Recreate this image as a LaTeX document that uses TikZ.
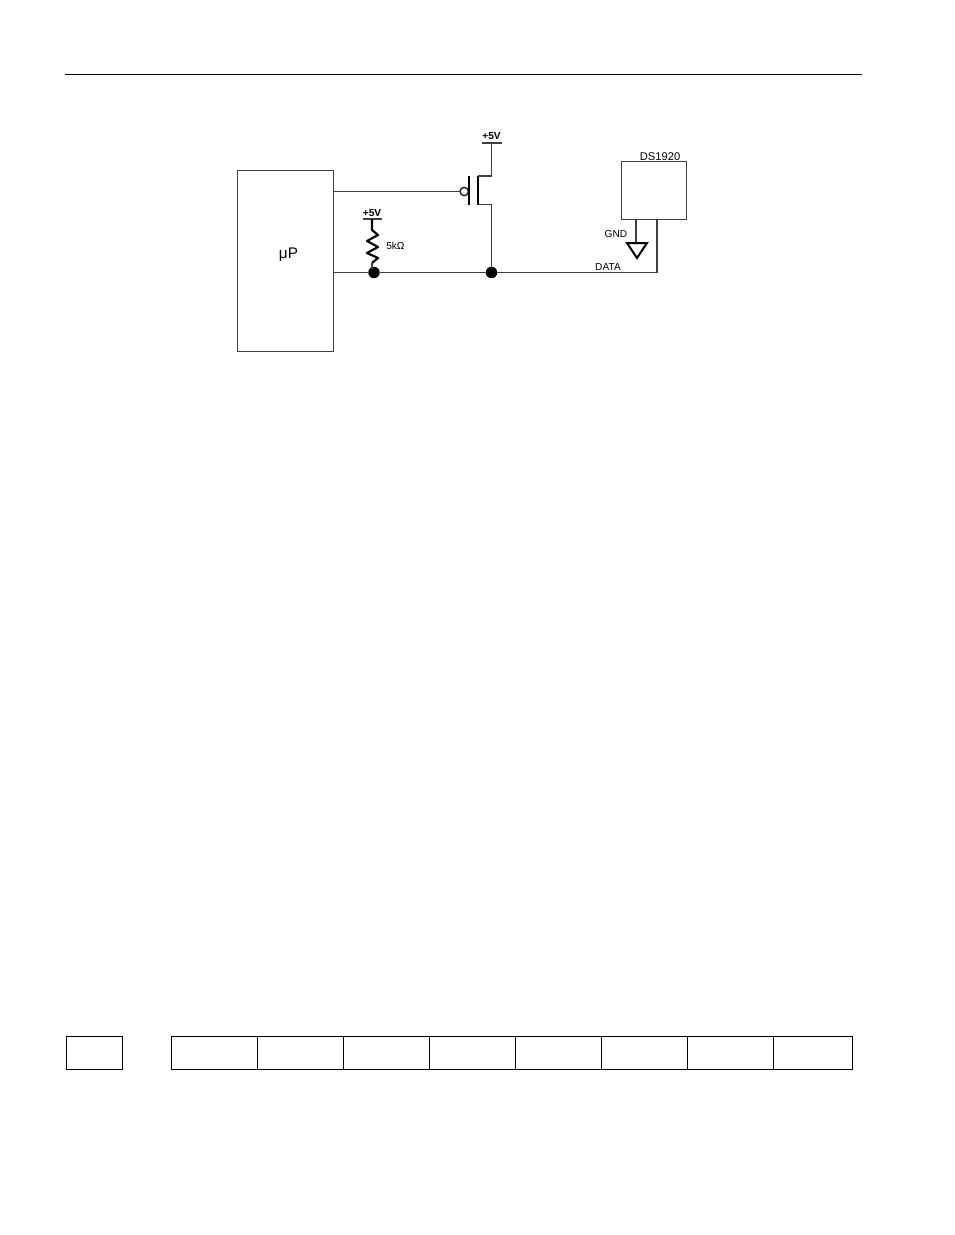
\documentclass[tikz,border=0pt]{standalone}
\usepackage{fontspec}
\setmainfont{Liberation Sans}
\usepackage{tikz}
\usetikzlibrary{positioning}
\tikzset{
	wire/.style={line width=0.8pt, draw=black!75},
	dotnode/.style={circle, fill=black, inner sep=0pt, outer sep=0pt, minimum size=8.6pt},
	lbl/.style={font=\fontsize{7.6}{8}\selectfont, inner sep=0pt},
	cell/.style={draw, line width=0.85pt, minimum height=24.75pt, anchor=south west, inner sep=0pt, outer sep=0pt}
}
\begin{document}
\begin{tikzpicture}[x=0.75pt, y=-0.75pt]
	\useasboundingbox (0,0) rectangle (954,1235);
	\draw[line width=0.75pt] (65,74.5) -- (862,74.5);

	\node[draw, wire, minimum width=72.5pt, minimum height=136.25pt, inner sep=0pt] (Micro) at (285.5,261) {};
	\node[font=\fontsize{11.5}{13}\selectfont] (MicroName) at (288.5,255) {μP};

	\node[dotnode] (DotR) at (374,272.5) {};
	\node[dotnode] (DotD) at (491.5,272.5) {};
	\coordinate (MicroData) at (334,272.5);
	\coordinate (MicroGate) at (334,191.5);
	\coordinate (DataEnd) at (657,272.5);
	\draw[wire] (MicroData) -- (DotR) -- (DotD) -- (DataEnd);

	% p-channel fet
	\coordinate (SrcTop) at (491.5,143);
	\draw[wire] (MicroGate) -- (460,191.5);
	\draw[line width=1.1pt, draw=black!85] (464.2,191.5) circle (4.2);
	\draw[line width=1.7pt] (468.8,175.5) -- (468.8,205);
	\draw[line width=1.5pt] (477.5,175.5) -- (477.5,205);
	\draw[wire] (477.5,176) -| (SrcTop);
	\draw[wire] (477.5,204.5) -| (DotD);
	\draw[wire] (482,143) -- (502,143);
	\node[lbl, above=2pt of SrcTop] (VddFet) {\textbf{+5V}};

	% pull up
	\coordinate (ResTop) at (372,219);
	\draw[wire] (363,219) -- (382,219);
	\node[lbl, above=1.5pt of ResTop] (VddRes) {\textbf{+5V}};
	\draw[line width=1.6pt, line join=round] (372,219) -- (372,230) -- (378,235) -- (367,241) -- (378,247) -- (367,253) -- (378,258) -- (372,263);
	\draw[wire] (372,263) -- (372,269);
	\node[lbl, anchor=west] (ResVal) at (386,245.5) {5kΩ};

	% ds1920
	\node[draw, wire, minimum width=48.5pt, minimum height=43.5pt, inner sep=0pt] (Device) at (653.8,190.5) {};
	\node[lbl, font=\fontsize{8.4}{9}\selectfont, anchor=south] (DevName) at (660,161) {DS1920};
	\draw[wire] (657,219.5) -- (DataEnd);
	\draw[wire] (636,219.5) -- (636,243);
	\draw[line width=1.5pt, line join=miter] (627,243) -- (647,243) -- (637,258) -- cycle;
	\node[lbl, anchor=east] (Gnd) at (627.5,234) {GND};
	\node[lbl, anchor=south] (DataLbl) at (608,270.5) {DATA};

	% table row
	\node[cell, minimum width=42pt] (Box) at (66.5,1069.5) {};
	\foreach \xa/\cw/\nm in {171.5/86/A,257.5/86/B,343.5/86/C,429.5/86/D,515.5/86/E,601.5/86/F,687.5/86/G,773.5/79/H}
		\node[cell, minimum width=\cw*0.75pt] (Cell\nm) at (\xa,1069.5) {};
\end{tikzpicture}
\end{document}
